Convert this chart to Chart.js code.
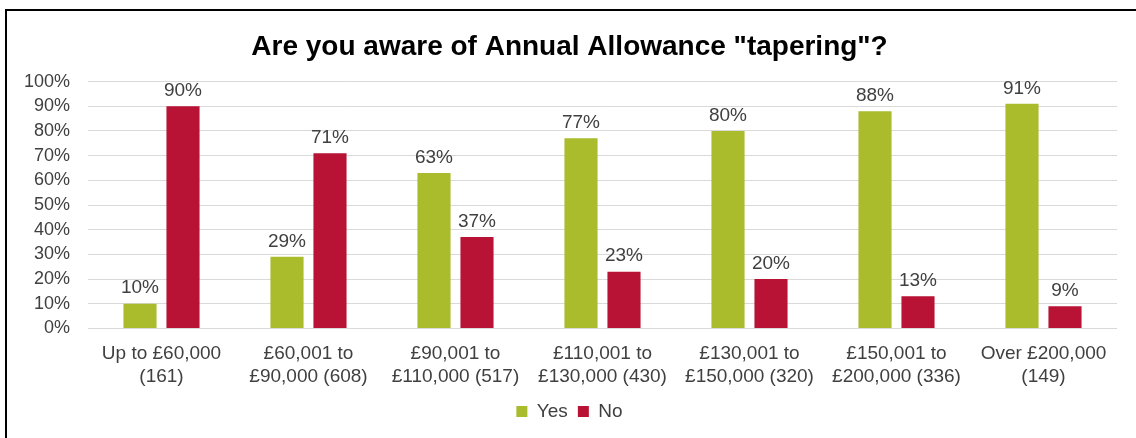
<!DOCTYPE html>
<html>
<head>
<meta charset="utf-8">
<script src="https://cdn.jsdelivr.net/npm/chart.js@4"></script>
<style>
  html, body { margin: 0; padding: 0; background: #fff; overflow: hidden; }
  #wrap { position: relative; width: 1136px; height: 438px; }
  #frame {
    position: absolute; left: 5px; top: 9px; width: 1200px; height: 500px;
    border-left: 2px solid #000; border-top: 2px solid #000;
  }
  #chart { position: absolute; left: 0; top: 0; }
</style>
</head>
<body>
<div id="wrap">
  <div id="frame"></div>
  <canvas id="chart" width="1136" height="438"></canvas>
</div>
<script>
var incomeBands = [
  ['Up to £60,000', '(161)'],
  ['£60,001 to', '£90,000 (608)'],
  ['£90,001 to', '£110,000 (517)'],
  ['£110,001 to', '£130,000 (430)'],
  ['£130,001 to', '£150,000 (320)'],
  ['£150,001 to', '£200,000 (336)'],
  ['Over £200,000', '(149)']
];
var yesPct = [10, 29, 63, 77, 80, 88, 91];
var noPct = [90, 71, 37, 23, 20, 13, 9];

var textColor = '#404040';
var baseFont = 'Liberation Sans, Arial, sans-serif';

// prints the percentage above each bar
var valueLabels = {
  id: 'valueLabels',
  afterDatasetsDraw: function (chart) {
    var ctx = chart.ctx;
    ctx.save();
    ctx.font = '19px ' + baseFont;
    ctx.fillStyle = textColor;
    ctx.textAlign = 'center';
    ctx.textBaseline = 'bottom';
    chart.data.datasets.forEach(function (ds, i) {
      chart.getDatasetMeta(i).data.forEach(function (bar, j) {
        ctx.fillText(ds.data[j] + '%', bar.x, bar.y - 6);
      });
    });
    ctx.restore();
  }
};

var ctx = document.getElementById('chart').getContext('2d');

var myChart = new Chart(ctx, {
  type: 'bar',
  data: {
    labels: incomeBands,
    datasets: [
      { label: 'Yes', data: yesPct, backgroundColor: '#aabb2c' },
      { label: 'No', data: noPct, backgroundColor: '#b81234' }
    ]
  },
  options: {
    responsive: false,
    animation: false,
    devicePixelRatio: 1,
    layout: { padding: { left: 22, right: 19, top: 30, bottom: 7 } },
    datasets: {
      bar: { categoryPercentage: 0.585, barPercentage: 0.77 }
    },
    scales: {
      x: {
        grid: { display: false },
        border: { display: false },
        ticks: {
          color: textColor,
          font: { family: baseFont, size: 19 },
          maxRotation: 0,
          autoSkip: false,
          padding: 6
        },
        afterFit: function (scale) { scale.height -= 2; }
      },
      y: {
        min: 0,
        max: 100,
        grid: { color: '#d9d9d9', lineWidth: 1, drawTicks: false },
        border: { display: false },
        ticks: {
          stepSize: 10,
          autoSkip: false,
          color: textColor,
          font: { family: baseFont, size: 18 },
          padding: 18,
          callback: function (v) { return v + '%'; }
        },
        afterFit: function (scale) { scale.width = 66; }
      }
    },
    plugins: {
      title: {
        display: true,
        text: 'Are you aware of Annual Allowance "tapering"?',
        color: '#000',
        font: { family: baseFont, size: 28, weight: 'bold' },
        padding: { top: 0, bottom: 18 }
      },
      legend: {
        position: 'bottom',
        labels: {
          color: textColor,
          font: { family: baseFont, size: 19 },
          boxWidth: 11,
          boxHeight: 11,
          padding: 10
        }
      },
      tooltip: { enabled: false }
    }
  },
  plugins: [valueLabels]
});
</script>
</body>
</html>
